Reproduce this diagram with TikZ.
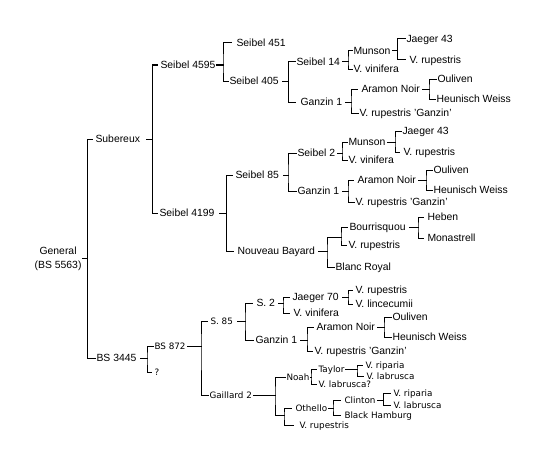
\documentclass[tikz,border=0pt]{standalone}
\usepackage{fontspec}
\setmainfont{Liberation Sans}
\newfontfamily\smallfam{DejaVu Sans}
\begin{document}
\begin{tikzpicture}[x=1pt,y=-1pt,
  lbl/.style={inner sep=0pt,anchor=west,font=\fontsize{10.4}{12}\selectfont,text height=7.4pt,text depth=0pt},
  slbl/.style={inner sep=0pt,anchor=west,font=\smallfam\fontsize{8.8}{10}\selectfont,text height=6.4pt,text depth=0pt},
  every path/.style={line width=1pt,line cap=rect}]
\fill[white] (0,0) rectangle (543,460);
\useasboundingbox (0,0) rectangle (543,460);
% ---------------- nodes
\node[inner sep=0pt,anchor=east,align=center,font=\fontsize{10.4}{14}\selectfont] (gen) at (82,258.5) {General\\(BS 5563)};
\node[lbl] (sub) at (95,139) {Subereux};
\node[lbl] (bs3445) at (96,358) {BS 3445};
% Subereux
\node[lbl] (s4595) at (160,65) {Seibel 4595};
\node[lbl] (s4199) at (159,213) {Seibel 4199};
\node[lbl] (s451) at (236,43) {Seibel 451};
\node[lbl] (s405) at (229,81) {Seibel 405};
\node[lbl] (s14) at (296,62) {Seibel 14};
\node[lbl] (gza) at (300,102) {Ganzin 1};
\node[lbl] (muna) at (353,51) {Munson};
\node[lbl] (vvina) at (353,69) {V. vinifera};
\node[lbl] (jga) at (406,39) {Jaeger 43};
\node[lbl] (vrupa) at (409,60) {V. rupestris};
\node[lbl] (arama) at (361,89) {Aramon Noir};
\node[lbl] (vrga) at (359,113) {V. rupestris 'Ganzin'};
\node[lbl] (oula) at (437,79) {Ouliven};
\node[lbl] (heua) at (436,99) {Heunisch Weiss};
% Seibel 4199
\node[lbl] (s85) at (235,175) {Seibel 85};
\node[lbl] (nbay) at (237,251) {Nouveau Bayard};
\node[lbl] (s2) at (297,153) {Seibel 2};
\node[lbl] (gzb) at (297,191) {Ganzin 1};
\node[lbl] (munb) at (348,142) {Munson};
\node[lbl] (vvinb) at (348,160) {V. vinifera};
\node[lbl] (jgb) at (402,131) {Jaeger 43};
\node[lbl] (vrupb) at (403,152) {V. rupestris};
\node[lbl] (aramb) at (357,180) {Aramon Noir};
\node[lbl] (vrgb) at (355,202) {V. rupestris 'Ganzin'};
\node[lbl] (oulb) at (433,170) {Ouliven};
\node[lbl] (heub) at (433,190) {Heunisch Weiss};
\node[lbl] (bourr) at (349,227) {Bourrisquou};
\node[lbl] (vrupc) at (348,245) {V. rupestris};
\node[lbl] (blanc) at (335,267) {Blanc Royal};
\node[lbl] (heben) at (427,217) {Heben};
\node[lbl] (mona) at (427,238) {Monastrell};
% BS 3445
\node[slbl] (bs872) at (154,346) {BS 872};
\node[slbl] (q) at (154,372) {?};
\node[slbl] (s85b) at (210,321) {S. 85};
\node[slbl] (gail) at (209,395) {Gaillard 2};
\node[lbl] (s2b) at (256,303) {S. 2};
\node[lbl] (gzc) at (255,340) {Ganzin 1};
\node[lbl] (j70) at (292,297) {Jaeger 70};
\node[lbl] (vvinc) at (293,313) {V. vinifera};
\node[lbl] (vrupd) at (355,290) {V. rupestris};
\node[lbl] (vlinc) at (355,304) {V. lincecumii};
\node[lbl] (aramc) at (316,327) {Aramon Noir};
\node[lbl] (vrgc) at (314,351) {V. rupestris 'Ganzin'};
\node[lbl] (oulc) at (392,317) {Ouliven};
\node[lbl] (heuc) at (392,337) {Heunisch Weiss};
% Gaillard 2
\node[slbl] (noah) at (286,377) {Noah};
\node[slbl] (taylor) at (318,369) {Taylor};
\node[slbl] (vlabq) at (318,384) {V. labrusca?};
\node[slbl] (vripa) at (365,365) {V. riparia};
\node[slbl] (vlaba) at (366,376) {V. labrusca};
\node[slbl] (oth) at (295,408) {Othello};
\node[slbl] (vrupe) at (299,425) {V. rupestris};
\node[slbl] (clin) at (344,400) {Clinton};
\node[slbl] (blackh) at (344,415) {Black Hamburg};
\node[slbl] (vripb) at (393,393) {V. riparia};
\node[slbl] (vlabb) at (393,405) {V. labrusca};
% ---------------- junctions
\coordinate (Jroot) at (87.5,258.5);
\coordinate (Jsub) at (152.5,139);
\coordinate (J4595) at (223,65);
\coordinate (J405) at (288.5,81);
\coordinate (J14) at (348,62);
\coordinate (Jmuna) at (397.5,51);
\coordinate (Jgza) at (351,102);
\coordinate (Jarama) at (429,89);
\coordinate (J4199) at (226.5,213);
\coordinate (J85) at (288,175);
\coordinate (J2) at (342,153);
\coordinate (Jmunb) at (395,142);
\coordinate (Jgzb) at (348,191);
\coordinate (Jaramb) at (426,180);
\coordinate (Jnb) at (327,251);
\coordinate (Kbr) at (341,237);
\coordinate (Jbourr) at (418,227);
\coordinate (J3445) at (147,358);
\coordinate (J872) at (201,346);
\coordinate (Js85) at (245,321);
\coordinate (Js2) at (283,303);
\coordinate (J70) at (348,297);
\coordinate (Jgzc) at (307,340);
\coordinate (Jaramc) at (384,327);
\coordinate (Jgail) at (275,395);
\coordinate (Kgail) at (284,415);
\coordinate (Jnoah) at (311,377);
\coordinate (Jtay) at (357,369);
\coordinate (Joth) at (333,408);
\coordinate (Jclin) at (383.5,400);
% ---------------- connectors
\draw (gen.east) -- (Jroot);
\draw ([xshift=-3pt]sub.west) -| (Jroot) |- ([xshift=-1pt]bs3445.west);
\draw ([xshift=6pt]sub.east) -- (Jsub);
\draw ([xshift=-3pt]s4595.west) -| (Jsub) |- ([xshift=-2pt]s4199.west);
\draw ([xshift=1pt]s4595.east) -- (J4595);
\draw ([xshift=-5pt]s451.west) -| (J4595) |- ([xshift=-0.5pt]s405.west);
\draw ([xshift=3pt]s405.east) -- (J405);
\draw ([xshift=-0.5pt]s14.west) -| (J405) |- ([xshift=-5pt]gza.west);
\draw ([xshift=2pt]s14.east) -- (J14);
\draw ([xshift=-0.5pt]muna.west) -| (J14) |- ([xshift=-0.5pt]vvina.west);
\draw ([xshift=1pt]muna.east) -- (Jmuna);
\draw ([xshift=-0.5pt]jga.west) -| (Jmuna) |- ([xshift=-4pt]vrupa.west);
\draw ([xshift=3pt]gza.east) -- (Jgza);
\draw ([xshift=-4pt]arama.west) -| (Jgza) |- ([xshift=-1pt]vrga.west);
\draw ([xshift=2pt]arama.east) -- (Jarama);
\draw ([xshift=-0.5pt]oula.west) -| (Jarama) |- ([xshift=-0.5pt]heua.west);
\draw ([xshift=5pt]s4199.east) -- (J4199);
\draw ([xshift=-3pt]s85.west) -| (J4199) |- ([xshift=-4pt]nbay.west);
\draw ([xshift=4pt]s85.east) -- (J85);
\draw ([xshift=-1pt]s2.west) -| (J85) |- ([xshift=-1pt]gzb.west);
\draw ([xshift=2pt]s2.east) -- (J2);
\draw ([xshift=-0.5pt]munb.west) -| (J2) |- ([xshift=-0.5pt]vvinb.west);
\draw ([xshift=1pt]munb.east) -- (Jmunb);
\draw ([xshift=-0.5pt]jgb.west) -| (Jmunb) |- ([xshift=-4pt]vrupb.west);
\draw ([xshift=3pt]gzb.east) -- (Jgzb);
\draw ([xshift=-4pt]aramb.west) -| (Jgzb) |- ([xshift=-1pt]vrgb.west);
\draw ([xshift=2pt]aramb.east) -- (Jaramb);
\draw ([xshift=-0.5pt]oulb.west) -| (Jaramb) |- ([xshift=-0.5pt]heub.west);
\draw ([xshift=3pt]nbay.east) -- (Jnb);
\draw (Kbr) -| (Jnb) |- ([xshift=-1pt]blanc.west);
\draw ([xshift=-2pt]bourr.west) -| (Kbr) |- ([xshift=-2pt]vrupc.west);
\draw ([xshift=3pt]bourr.east) -- (Jbourr);
\draw ([xshift=-4pt]heben.west) -| (Jbourr) |- ([xshift=-4pt]mona.west);
\draw ([xshift=4pt]bs3445.east) -- (J3445);
\draw ([xshift=-1pt]bs872.west) -| (J3445) |- ([xshift=-3pt]q.west);
\draw ([xshift=1pt]bs872.east) -- (J872);
\draw ([xshift=-3pt]s85b.west) -| (J872) |- ([xshift=-1pt]gail.west);
\draw ([xshift=4pt]s85b.east) -- (Js85);
\draw ([xshift=-4pt]s2b.west) -| (Js85) |- ([xshift=-2pt]gzc.west);
\draw ([xshift=3pt]s2b.east) -- (Js2);
\draw ([xshift=-3pt]j70.west) -| (Js2) |- ([xshift=-4pt]vvinc.west);
\draw ([xshift=3pt]j70.east) -- (J70);
\draw ([xshift=-3pt]vrupd.west) -| (J70) |- ([xshift=-3pt]vlinc.west);
\draw ([xshift=3pt]gzc.east) -- (Jgzc);
\draw ([xshift=-3pt]aramc.west) -| (Jgzc) |- ([xshift=-2pt]vrgc.west);
\draw ([xshift=2pt]aramc.east) -- (Jaramc);
\draw ([xshift=-0.5pt]oulc.west) -| (Jaramc) |- ([xshift=-0.5pt]heuc.west);
\draw ([xshift=1pt]gail.east) -- (Jgail);
\draw ([xshift=-1pt]noah.west) -| (Jgail) |- (Kgail);
\draw ([xshift=-4pt]oth.west) -| (Kgail) |- ([xshift=-6pt]vrupe.west);
\draw ([xshift=0.5pt]noah.east) -- (Jnoah);
\draw ([xshift=-2pt]taylor.west) -| (Jnoah) |- ([xshift=-2pt]vlabq.west);
\draw ([xshift=1pt]taylor.east) -- (Jtay);
\draw ([xshift=-3pt]vripa.west) -| (Jtay) |- ([xshift=-3pt]vlaba.west);
\draw ([xshift=1pt]oth.east) -- (Joth);
\draw ([xshift=-4pt]clin.west) -| (Joth) |- ([xshift=-4pt]blackh.west);
\draw ([xshift=1pt]clin.east) -- (Jclin);
\draw ([xshift=-3pt]vripb.west) -| (Jclin) |- ([xshift=-3pt]vlabb.west);
\end{tikzpicture}
\end{document}
